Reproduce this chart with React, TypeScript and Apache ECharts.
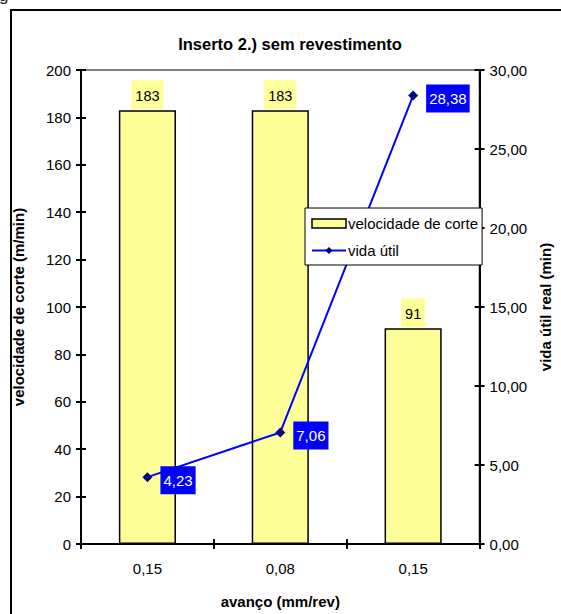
import React, { useEffect, useRef } from "react";
import * as echarts from "echarts";

const categories = ["0,15", "0,08", "0,15"];
const velocidade = [183, 183, 91];
const vida = [4.23, 7.06, 28.38];
const leftTicks = { min: 0, max: 200, interval: 20 };
const rightTicks = { min: 0, max: 30, interval: 5 };

const FONT = "Liberation Sans, Arial, sans-serif";
const comma = (v: number) => v.toFixed(2).replace(".", ",");

export default function App() {
  const ref = useRef<HTMLDivElement>(null);
  useEffect(() => {
    document.body.style.margin = "0";
    const chart = echarts.init(ref.current!, null, { renderer: "svg" });
    const baseY = (extra: any) => ({
      type: "value",
      splitLine: { show: false },
      axisLine: { show: true, lineStyle: { color: "#000", width: 2 } },
      axisTick: { show: true, length: 5, lineStyle: { color: "#000", width: 2 } },
      ...extra,
    });
    const nameStyle = { fontSize: 15, fontWeight: "bold", color: "#000", fontFamily: FONT };
    chart.setOption({
      animation: false,
      textStyle: { fontFamily: FONT },
      title: {
        text: "Inserto 2.) sem revestimento",
        left: 285,
        top: 30,
        textAlign: "center",
        textStyle: { fontSize: 16.5, fontWeight: "bold", color: "#000", fontFamily: FONT },
      },
      legend: {
        left: 305,
        top: 208,
        orient: "vertical",
        backgroundColor: "#fff",
        borderColor: "#000",
        borderWidth: 1,
        padding: [8, 4, 7, 6],
        itemGap: 12,
        itemWidth: 34,
        itemHeight: 9,
        textStyle: { fontSize: 15, color: "#000", fontFamily: FONT, padding: [0, 0, 0, -3] },
        data: [
          { name: "velocidade de corte", icon: "rect", itemStyle: { color: "#FFFF99", borderColor: "#000", borderWidth: 1.5 } },
          { name: "vida útil" },
        ],
      },
      grid: {
        left: 81,
        right: 70,
        top: 70,
        bottom: 64,
        show: true,
        borderColor: "#808080",
        borderWidth: 2,
        backgroundColor: "transparent",
      },
      xAxis: [
        {
          type: "category",
          data: categories,
          name: "avanço (mm/rev)",
          nameLocation: "middle",
          nameGap: 50,
          nameTextStyle: nameStyle,
          axisLine: { show: true, lineStyle: { color: "#000", width: 2 } },
          axisTick: { show: true, length: 5, lineStyle: { color: "#000", width: 2 } },
          axisLabel: { fontSize: 15, color: "#000", margin: 17, fontFamily: FONT },
        },
        {
          type: "category",
          data: categories,
          position: "bottom",
          axisLine: { show: false },
          axisTick: { show: true, inside: true, length: 5, lineStyle: { color: "#000", width: 2 } },
          axisLabel: { show: false },
        },
      ],
      yAxis: [
        baseY({
          ...leftTicks,
          position: "left",
          name: "velocidade de corte (m/min)",
          nameLocation: "middle",
          nameGap: 55,
          nameTextStyle: nameStyle,
          axisLabel: { fontSize: 15, color: "#000", margin: 10, fontFamily: FONT },
        }),
        baseY({
          ...rightTicks,
          position: "right",
          name: "vida útil real (min)",
          nameLocation: "middle",
          nameGap: 56,
          nameRotate: 90,
          nameTextStyle: nameStyle,
          axisLabel: { fontSize: 15, color: "#000", margin: 10, formatter: comma, fontFamily: FONT },
        }),
        baseY({
          ...leftTicks,
          position: "left",
          axisLine: { show: false },
          axisTick: { show: true, inside: true, length: 5, lineStyle: { color: "#000", width: 2 } },
          axisLabel: { show: false },
        }),
        baseY({
          ...rightTicks,
          position: "right",
          axisLine: { show: false },
          axisTick: { show: true, inside: true, length: 5, lineStyle: { color: "#000", width: 2 } },
          axisLabel: { show: false },
        }),
      ],
      series: [
        {
          name: "velocidade de corte",
          type: "bar",
          data: velocidade,
          xAxisIndex: 0,
          yAxisIndex: 0,
          barWidth: "43%",
          itemStyle: { color: "#FFFF99", borderColor: "#000", borderWidth: 1.5 },
          label: {
            show: true,
            position: "top",
            distance: 1,
            fontSize: 14.5,
            color: "#000",
            fontFamily: FONT,
            backgroundColor: "#FFFF99",
            padding: [8, 4, 6, 4],
          },
          z: 1,
        },
        {
          name: "vida útil",
          type: "line",
          data: vida,
          xAxisIndex: 0,
          yAxisIndex: 1,
          symbol: "diamond",
          symbolSize: 10,
          lineStyle: { color: "#0000FF", width: 2 },
          itemStyle: { color: "#000080" },
          label: {
            show: true,
            position: "right",
            distance: 8,
            offset: [0, 3],
            formatter: (p: any) => comma(p.value),
            fontSize: 15,
            color: "#fff",
            fontFamily: FONT,
            backgroundColor: "#0000FF",
            padding: [7, 3, 6, 3],
          },
          z: 3,
        },
      ],
      graphic: [
        {
          type: "rect",
          shape: { x: 11, y: 10, width: 700, height: 800 },
          style: { fill: "none", stroke: "#000", lineWidth: 2 },
          silent: true,
        },
        {
          type: "text",
          x: -1,
          y: -13,
          style: { text: "g", fontSize: 17, fill: "#222", fontFamily: FONT },
          silent: true,
        },
      ],
    });
    return () => chart.dispose();
  }, []);
  return <div ref={ref} style={{ width: 561, height: 614 }} />;
}
